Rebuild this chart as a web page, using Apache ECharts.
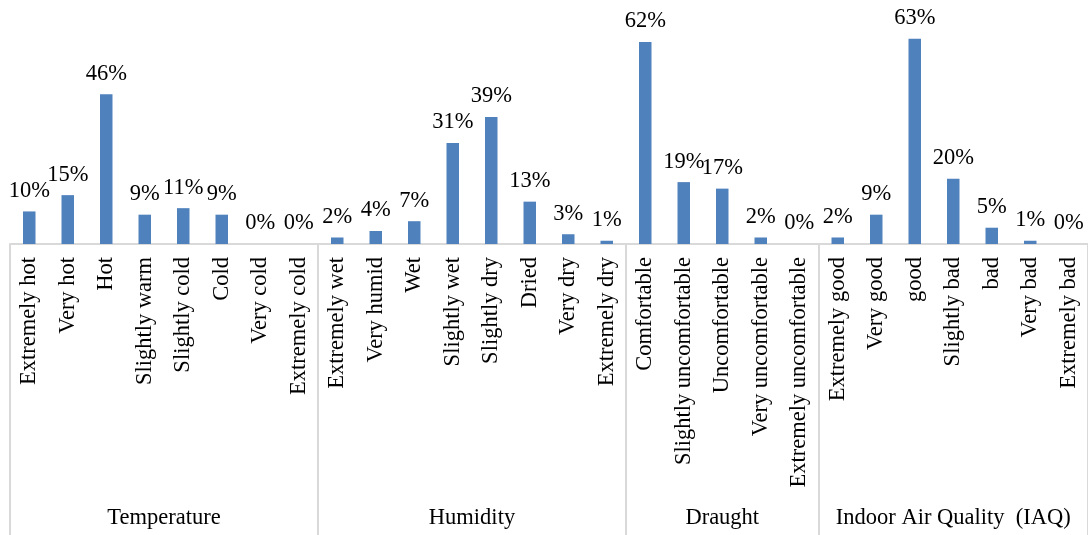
<!DOCTYPE html>
<html>
<head>
<meta charset="utf-8">
<script src="https://cdn.jsdelivr.net/npm/echarts@6/dist/echarts.min.js"></script>
<style>
  html, body { margin: 0; padding: 0; background: #ffffff; }
  #chart { width: 1088px; height: 535px; }
</style>
</head>
<body>
<div id="chart"></div>
<script>
// Survey responses (%) for four indoor comfort aspects
const temperatureCats = ['Extremely hot', 'Very hot', 'Hot', 'Slightly warm', 'Slightly cold', 'Cold', 'Very cold', 'Extremely cold'];
const temperatureVals = [10, 15, 46, 9, 11, 9, 0, 0];

const humidityCats = ['Extremely wet', 'Very humid', 'Wet', 'Slightly wet', 'Slightly dry', 'Dried', 'Very dry', 'Extremely dry'];
const humidityVals = [2, 4, 7, 31, 39, 13, 3, 1];

const draughtCats = ['Comfortable', 'Slightly uncomfortable', 'Uncomfortable', 'Very uncomfortable', 'Extremely uncomfortable'];
const draughtVals = [62, 19, 17, 2, 0];

const iaqCats = ['Extremely good', 'Very good', 'good', 'Slightly bad', 'bad', 'Very bad', 'Extremely bad'];
const iaqVals = [2, 9, 63, 20, 5, 1, 0];

const groupNames = ['Temperature', 'Humidity', 'Draught', 'Indoor Air Quality  (IAQ)'];
const groupCats = [temperatureCats, humidityCats, draughtCats, iaqCats];
const groupVals = [temperatureVals, humidityVals, draughtVals, iaqVals];

const categories = [].concat(...groupCats);
const values = [].concat(...groupVals);

// indices where each group starts (separator positions)
const groupStarts = [];
let acc = 0;
groupCats.forEach(g => { groupStarts.push(acc); acc += g.length; });

const FONT = "'Liberation Serif', 'Times New Roman', serif";
const FONT_SIZE = 22.5;
const GRID_COLOR = '#d9d9d9';

const chart = echarts.init(document.getElementById('chart'), null, { renderer: 'canvas' });

chart.setOption({
  animation: false,
  backgroundColor: '#ffffff',
  grid: { left: 10, top: 16, width: 1083, bottom: 291, containLabel: false },
  xAxis: {
    type: 'category',
    data: categories,
    boundaryGap: true,
    axisLine: { show: true, lineStyle: { color: GRID_COLOR, width: 2 } },
    axisTick: {
      show: true,
      inside: false,
      length: 292,
      interval: (index) => groupStarts.indexOf(index) !== -1,
      lineStyle: { color: GRID_COLOR, width: 2 }
    },
    axisLabel: {
      interval: 0,
      rotate: 90,
      margin: 13,
      color: '#000000',
      fontFamily: FONT,
      fontSize: FONT_SIZE
    }
  },
  yAxis: {
    type: 'value',
    min: 0,
    max: 70,
    show: false,
    splitLine: { show: false }
  },
  series: [{
    type: 'bar',
    data: values,
    barWidth: 12.5,
    itemStyle: { color: '#4f81bd' },
    label: {
      show: true,
      position: 'top',
      distance: 9,
      formatter: '{c}%',
      color: '#000000',
      fontFamily: FONT,
      fontSize: FONT_SIZE
    }
  }]
});

// group titles centred under each block of categories
const groupLabels = groupCats.map((g, i) => {
  const first = chart.convertToPixel({ xAxisIndex: 0 }, groupStarts[i]);
  const last = chart.convertToPixel({ xAxisIndex: 0 }, groupStarts[i] + g.length - 1);
  return {
    type: 'text',
    x: (first + last) / 2,
    y: 518,
    style: {
      text: groupNames[i],
      fill: '#000000',
      font: FONT_SIZE + 'px ' + FONT,
      align: 'center',
      verticalAlign: 'middle'
    }
  };
});
chart.setOption({ graphic: groupLabels });
</script>
</body>
</html>
